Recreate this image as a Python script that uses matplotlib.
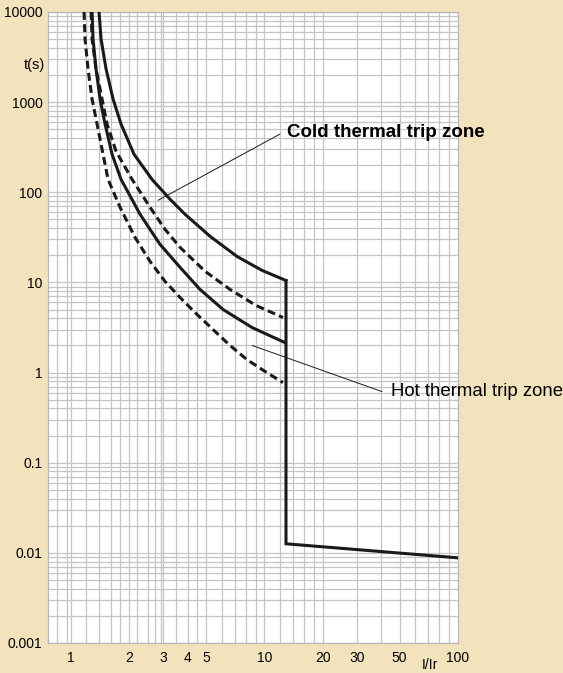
import matplotlib
matplotlib.use("Agg")
import matplotlib.pyplot as plt

plt.rcParams['font.family'] = ['Liberation Sans', 'DejaVu Sans']

# trip curves (I/Ir, seconds)
cold_upper_x = [1.395, 1.429, 1.517, 1.649, 1.813, 2.116, 2.621, 3.249, 3.882, 5.228, 7.21, 9.71, 12.92]
cold_upper_t = [10000, 5010, 2326, 1080, 570, 264, 139, 83.6, 57, 32.5, 19.4, 13.6, 10.5]

hot_upper_x = [1.284, 1.299, 1.346, 1.412, 1.499, 1.629, 1.813, 2.273, 2.884, 3.659, 4.642, 6.104, 8.618, 12.76]
hot_upper_t = [10000, 5010, 2326, 1080, 570, 264, 139, 57, 26.4, 14.7, 8.36, 5.01, 3.16, 2.15]

cold_lower_x = [1.269, 1.284, 1.346, 1.429, 1.535, 1.708, 2.067, 2.561, 3.06, 3.659, 4.926, 6.632, 9.04, 12.46]
cold_lower_t = [10000, 5010, 2326, 1227, 570, 285, 139, 68.1, 38.8, 24.5, 13.3, 8.36, 5.55, 4.08]

hot_lower_x = [1.167, 1.181, 1.224, 1.284, 1.363, 1.446, 1.553, 1.792, 2.141, 2.561, 3.06,
               3.659, 4.426, 5.42, 6.632, 8.12, 10.06, 12.46]
hot_lower_t = [10000, 5010, 2326, 1080, 570, 300, 139, 68.1, 31.6, 17.1, 10.26,
               6.81, 4.52, 3.0, 2.0, 1.39, 1.03, 0.774]

# instantaneous trip part
trip_x = [12.92, 12.92, 100]
trip_t = [10.5, 0.0126, 0.0088]

xtick_vals = [1, 2, 3, 4, 5, 10, 20, 30, 50, 100]
xtick_labels = ["1", "2", "3", "4", "5", "10", "20", "30", "50", "100"]
ytick_vals = [0.001, 0.01, 0.1, 1, 10, 100, 1000, 10000]
ytick_labels = ["0.001", "0.01", "0.1", "1", "10", "100", "1000", "10000"]

# vertical grid as drawn on the original sheet
xgrid = [0.85, 0.95, 1, 1.2, 1.4, 1.6, 1.8, 2, 2.2, 2.5, 2.7, 2.9, 3, 3.5, 4, 4.5,
         5, 6, 7, 8, 9, 10, 12, 14, 16, 18, 20, 30, 40, 50, 60, 70, 80, 90]
ygrid = [m * 10.0 ** e for e in range(-3, 4) for m in range(1, 10)] + [10000]

bg = '#f3e3bd'
grid_col = '#c4c4c8'
ink = '#1a1a1a'

fig = plt.figure(figsize=(5.63, 6.73), dpi=100)
fig.patch.set_facecolor(bg)
ax = fig.add_axes([0.0853, 0.0446, 0.728, 0.9376])
ax.set_xscale('log')
ax.set_yscale('log')
ax.set_xlim(0.76, 100)
ax.set_ylim(0.001, 10000)

for gx in xgrid:
    ax.axvline(gx, color=grid_col, lw=0.9, zorder=1)
for gy in ygrid:
    ax.axhline(gy, color=grid_col, lw=0.9, zorder=1)

lw = 2.2
dash = (2.6, 1.4)
ax.plot(cold_upper_x, cold_upper_t, color=ink, lw=lw, zorder=3)
ax.plot(hot_upper_x, hot_upper_t, color=ink, lw=lw, zorder=3)
ax.plot(cold_lower_x, cold_lower_t, color=ink, lw=lw, ls=(0, dash), zorder=3)
ax.plot(hot_lower_x, hot_lower_t, color=ink, lw=lw, ls=(0, dash), zorder=3)
ax.plot(trip_x, trip_t, color=ink, lw=lw, zorder=3, solid_joinstyle='miter')

# zone labels with leader lines
line_kw = dict(arrowstyle='-', color=ink, lw=0.7, shrinkA=0, shrinkB=0)
ax.annotate("", xy=(2.82, 81.5), xytext=(12.0, 441), arrowprops=line_kw)
ax.text(13.1, 464, "Cold thermal trip zone", fontsize=13.5, fontweight='bold',
        va='center', ha='left')
ax.annotate("", xy=(8.62, 2.0), xytext=(40.5, 0.615), arrowprops=line_kw)
ax.text(45.1, 0.615, "Hot thermal trip zone", fontsize=13.4, va='center', ha='left',
        clip_on=False)

ax.set_xticks(xtick_vals)
ax.set_xticklabels(xtick_labels)
ax.set_yticks(ytick_vals)
ax.set_yticklabels(ytick_labels)
ax.minorticks_off()
ax.tick_params(length=0, labelsize=10, pad=4)
ax.tick_params(axis='x', pad=6)
for s in ax.spines.values():
    s.set_color('#b8b8bc')
    s.set_linewidth(0.9)

fig.text(34 / 563, 1 - 65 / 673, "t(s)", fontsize=10.5, ha='center', va='center')
fig.text(430 / 563, 1 - 665 / 673, "I/Ir", fontsize=10, ha='center', va='center')

fig.savefig("out.png", dpi=100, facecolor=bg)
